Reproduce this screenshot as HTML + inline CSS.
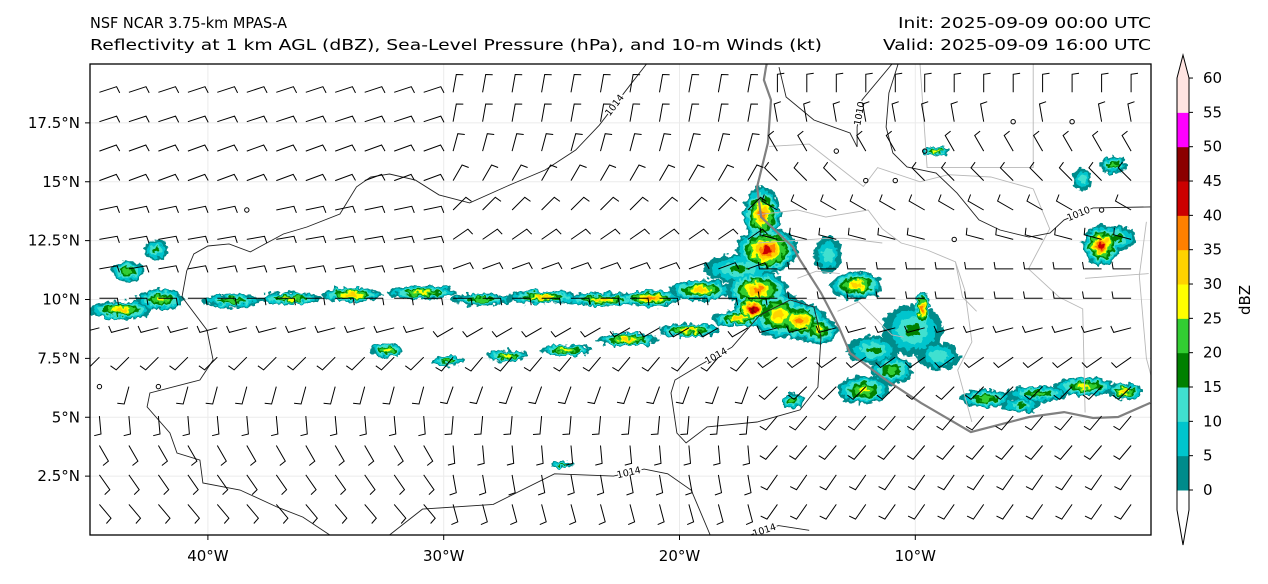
<!DOCTYPE html>
<html><head><meta charset="utf-8">
<style>
html,body{margin:0;padding:0;background:#fff;}
body{width:1268px;height:580px;overflow:hidden;font-family:"DejaVu Sans","Liberation Sans",sans-serif;}
svg text{font-family:"DejaVu Sans","Liberation Sans",sans-serif;fill:#000;}
</style></head>
<body>
<svg id="chart" width="1268" height="580" viewBox="0 0 1268 580">
  <text x="90" y="28" font-size="15" textLength="197" lengthAdjust="spacingAndGlyphs">NSF NCAR 3.75-km MPAS-A</text>
  <text x="90" y="50" font-size="15" textLength="732" lengthAdjust="spacingAndGlyphs">Reflectivity at 1 km AGL (dBZ), Sea-Level Pressure (hPa), and 10-m Winds (kt)</text>
  <text x="898" y="28" font-size="15" textLength="253" lengthAdjust="spacingAndGlyphs">Init: 2025-09-09 00:00 UTC</text>
  <text x="883" y="50" font-size="15" textLength="268" lengthAdjust="spacingAndGlyphs">Valid: 2025-09-09 16:00 UTC</text>
  <defs>
    <clipPath id="clip"><rect x="90" y="64" width="1061" height="471"/></clipPath>
    <filter id="rough" x="-5%" y="-5%" width="110%" height="110%">
      <feTurbulence type="fractalNoise" baseFrequency="0.18" numOctaves="2" seed="3" result="n"/>
      <feDisplacementMap in="SourceGraphic" in2="n" scale="9" xChannelSelector="R" yChannelSelector="G"/>
    </filter>
  </defs>
  <g id="plot" clip-path="url(#clip)"></g>
  <rect x="90" y="64" width="1061" height="471" fill="none" stroke="#000" stroke-width="1.3"/>
  <g id="axes"></g>
  <g id="cbar"></g>
</svg>
<script>
const NS='http://www.w3.org/2000/svg';
// ---- data ----
const lonTicks=[-40,-30,-20,-10];
const lonLabels=['40°W','30°W','20°W','10°W'];
const latTicks=[2.5,5,7.5,10,12.5,15,17.5];
const latLabels=['2.5°N','5°N','7.5°N','10°N','12.5°N','15°N','17.5°N'];
const cbLevels=[0,5,10,15,20,25,30,35,40,45,50,55,60];
const cbColors=['#008b8b','#00c5cd','#40e0d0','#008000','#32cd32','#ffff00','#ffd200','#ff8000','#cc0000','#8b0000','#ff00ff','#ffe4e1'];
// reflectivity cells: lon, lat, half-width (deg), half-height (deg), max dBZ
const cellLon=[-43.7,-42.0,-39.0,-36.5,-33.9,-30.9,-28.4,-25.8,-23.3,-21.2,-19.1,-42.2,-43.4,
 -32.4,-29.8,-27.3,-24.8,-22.2,-19.6,-17.5,
 -16.5,-16.3,-17.5,-16.7,-15.8,-14.9,-14.1,-16.9,-12.5,-13.7,
 -10.1,-9.7,-11.8,-12.2,-11.0,-9.0,-7.0,-4.8,-2.8,-1.1,-2.1,-1.5,-1.6,-2.9,-9.1,-15.2,-25.0,-5.5];
const cellLat=[9.55,10.0,9.95,10.05,10.2,10.3,10.0,10.1,10.0,10.05,10.4,12.1,11.2,
 7.85,7.4,7.6,7.85,8.3,8.7,9.2,
 13.6,12.1,11.3,10.4,9.35,9.1,8.7,9.6,10.6,11.9,
 8.7,9.6,7.85,6.15,7.0,7.6,5.8,6.0,6.3,6.1,12.3,12.6,15.7,15.1,16.3,5.7,3.0,5.5];
const cellRx=[1.3,1.0,1.3,1.3,1.3,1.5,1.3,1.5,1.5,1.3,1.3,0.5,0.7,
 0.7,0.7,0.9,1.1,1.3,1.3,1.1,
 0.8,1.3,1.5,1.3,1.1,1.1,0.8,0.8,1.1,0.6,
 1.3,0.35,1.1,1.1,0.9,0.9,1.1,1.3,1.3,0.7,0.8,0.9,0.6,0.4,0.6,0.5,0.5,0.8];
const cellRy=[0.4,0.45,0.3,0.25,0.3,0.3,0.25,0.3,0.3,0.35,0.45,0.45,0.45,
 0.3,0.22,0.25,0.25,0.3,0.3,0.35,
 1.2,1.0,0.6,0.8,1.0,0.8,0.6,0.6,0.6,0.8,
 1.1,0.8,0.6,0.6,0.6,0.6,0.4,0.35,0.4,0.35,0.85,0.55,0.35,0.45,0.2,0.3,0.15,0.3];
const cellDbz=[32,27,22,27,32,27,22,32,32,37,32,15,22,
 27,22,27,27,32,32,32,
 37,42,15,37,32,37,27,47,32,12,
 15,37,15,27,22,12,22,22,27,32,42,17,22,12,27,22,15,15];
// wind barbs: direction wind comes from (deg), per grid row, for west / middle / east zones
const barbRowLat=[18.8,17.55,16.3,15.05,13.8,12.55,11.3,10.05,8.8,7.55,6.3,5.05,3.8,2.55,1.3];
const barbColLon0=-44.6, barbColStep=1.25, barbCols=36;
const rowDirWest=[72,72,70,70,78,80,80,90,255,225,195,175,150,145,140];
const rowDirMid=[10,10,15,30,45,55,70,90,240,220,200,185,175,170,165];
const rowDirEast=[0,350,330,315,300,285,270,270,255,235,225,220,220,215,215];
const calmLon=[-10.0,-13.1,-11.8,-11.0,-3.4,-5.9,-1.5,-2.7,-8.4,-38.9,-42.5,-44.6];
const calmLat=[16.1,16.2,14.9,14.9,17.5,17.5,17.5,14.1,12.5,13.8,6.3,6.3];
// isobars (lon,lat pairs flattened)
const iso1014a=[-21.4,20,-22.1,19.1,-23.4,17.4,-24.4,16.35,-25.7,15.5,-27.2,14.86,-28.9,14.1,-30.2,14.44,-31.2,15.07,-32.3,15.33,-33.1,15.2,-33.7,14.78,-34.4,13.63,-35.8,13.08,-36.8,12.78,-38.2,12.02,-39.1,12.36,-40.0,12.27,-40.6,11.93,-40.9,11.21,-41.1,10.11,-40.04,8.7,-39.78,7.43,-40.34,6.58,-42.46,6.03,-42.58,5.44,-41.61,4.33,-41.31,3.48,-40.34,3.18,-40.21,2.21,-38.64,1.91,-37.07,1.19,-35.97,0.76,-34.83,0];
const iso1014b=[-32.3,0,-30.9,1.1,-27.9,1.3,-25.3,2.6,-22.8,2.5,-21.5,2.8,-20.5,2.6,-19.5,1.9,-18.7,0];
const iso1014c=[-17.0,0,-15.8,0.4,-14.5,0.2];
const iso1014d=[-17.77,7.98,-19.13,7.22,-20.19,6.58,-20.36,6.03,-20.11,4.33,-19.72,3.91,-18.83,4.59,-16.71,4.8,-14.89,5.31,-14.13,6.28,-14.0,8.41,-14.3,9.68,-15.31,9.98,-16.59,9.34,-17.77,7.98];
const iso1010a=[-15.78,19.87,-15.48,18.6,-14.3,17.62,-12.77,17.07,-12.47,16.48,-12.47,17.32,-12.26,18.47,-10.99,20];
const iso1010b=[-10.73,20,-11.12,18.77,-11.24,17.32,-10.95,16.22,-10.35,15.63,-9.12,15.37,-8.23,14.52,-7.3,13.38,-6.41,12.95,-5.18,12.65,-4.29,12.82,-3.69,13.38,-2.46,13.89,-0.04,13.93];
// coastline and borders
const coastLon=[-16.3,-16.33,-16.42,-16.12,-16.25,-16.71,-16.54,-15.19,-14.89,-14.0,-13.24,-12.77,-11.24,-9.76,-7.64,-5.18,-3.69,-2.46,-1.4,-0.04];
const coastLat=[20,19.87,19.32,18.47,16.65,14.78,13.5,12.23,11.68,10.28,8.83,7.73,6.58,5.61,4.37,5.01,5.22,4.97,5.01,5.61];
const borders=[
 [-16.2,16.5,-14.5,16.6,-12.2,14.8,-11.6,15.6,-9.8,15.0,-8.6,15.3,-6.8,15.2,-5.0,14.7],
 [-16.7,13.6,-15.0,13.8,-13.8,13.5,-12.0,13.8,-11.4,13.0,-10.6,12.4,-9.5,12.1,-8.3,11.6,-8.0,10.1,-7.4,9.5],
 [-16.7,12.4,-13.7,12.6,-13.0,12.6,-11.4,12.4],
 [-15.0,10.9,-14.2,11.2,-13.2,11.1],
 [-13.3,9.5,-12.4,9.9,-11.0,8.5,-10.5,8.4],
 [-9.8,20,-9.5,15.6,-5.0,15.6,-5.0,20],
 [-8.3,11.6,-7.9,10.4,-7.6,8.2,-8.2,7.0,-7.6,4.8],
 [-5.0,14.7,-4.3,13.0,-5.2,11.3,-3.9,10.1,-2.9,9.6,-2.8,5.2],
 [-2.8,10.9,-0.1,11.1],
 [-0.2,13.3,-0.5,11.0,-0.2,7.5,0.2,6.0]
];
// ---- helpers ----
const X=lon=>90+(lon+45)*23.58;
const Y=lat=>535-lat*23.55;
const plotG=document.getElementById('plot');
const axesG=document.getElementById('axes');
const cbarG=document.getElementById('cbar');
function mk(tag,attrs,parent){const e=document.createElementNS(NS,tag);for(const k in attrs)e.setAttribute(k,attrs[k]);parent.appendChild(e);return e;}
function colorFor(v){let i=Math.floor(v/5);if(i<0)i=0;if(i>11)i=11;return cbColors[i];}
function pathOf(a){let d='';for(let i=0;i<a.length;i+=2)d+=(i?'L':'M')+X(a[i]).toFixed(1)+' '+Y(a[i+1]).toFixed(1);return d;}
// gridlines
lonTicks.forEach(v=>{const l=mk('line',{x1:X(v),x2:X(v),y1:64,y2:535,stroke:'#ebebeb','stroke-width':1},plotG);

});
latTicks.forEach(v=>{const l=mk('line',{x1:90,x2:1151,y1:Y(v),y2:Y(v),stroke:'#ebebeb','stroke-width':1},plotG);

});
// reflectivity
const refl=mk('g',{filter:'url(#rough)'},plotG);


for(let L=0;L<=55;L+=5){
  for(let i=0;i<cellLon.length;i++){
    const mx=cellDbz[i];
    if(L>mx)continue;
    const f=1-L/(mx+5);
    const e=mk('ellipse',{cx:X(cellLon[i]),cy:Y(cellLat[i]),rx:cellRx[i]*23.58*f,ry:cellRy[i]*23.55*f,fill:colorFor(L)},refl);
    
    
  }
}
// borders
borders.forEach(b=>{const p=mk('path',{d:pathOf(b),fill:'none',stroke:'#b8b8b8','stroke-width':0.9},plotG);

});
// coastline
const ca=[];coastLon.forEach((v,i)=>{ca.push(v,coastLat[i]);});
const cst=mk('path',{d:pathOf(ca),fill:'none',stroke:'#808080','stroke-width':2.2},plotG);


// isobars
[[iso1014a,'1014',1],[iso1014b,'1014',4],[iso1014c,'1014',0],[iso1014d,'1014',0],[iso1010a,'1010',5],[iso1010b,'1010',11]].forEach(([a,lab,k])=>{
  const p=mk('path',{d:pathOf(a),fill:'none',stroke:'#222','stroke-width':0.9},plotG);
  
  
  const j=Math.min(k,a.length/2-2)*2;
  const x1=X(a[j]),y1=Y(a[j+1]),x2=X(a[j+2]),y2=Y(a[j+3]);
  let ang=Math.atan2(y2-y1,x2-x1)*180/Math.PI; if(ang>90)ang-=180; if(ang<-90)ang+=180;
  const t=mk('text',{x:(x1+x2)/2,y:(y1+y2)/2+3,'font-size':9.5,'text-anchor':'middle',transform:`rotate(${ang} ${(x1+x2)/2} ${(y1+y2)/2})`,stroke:'#fff','stroke-width':3,'paint-order':'stroke'},plotG);
  t.textContent=lab;
  
  
});
// wind barbs
const barbs=mk('g',{stroke:'#000','stroke-width':1,fill:'none'},plotG);


function isCalm(lon,lat){for(let i=0;i<calmLon.length;i++){if(Math.abs(calmLon[i]-lon)<0.6&&Math.abs(calmLat[i]-lat)<0.6)return true;}return false;}
barbRowLat.forEach((lat,r)=>{
  for(let c=0;c<barbCols;c++){
    const lon=barbColLon0+c*barbColStep;
    const x=X(lon),y=Y(lat);
    if(isCalm(lon,lat)){const ci=mk('circle',{cx:x,cy:y,r:2.2},barbs);
      
      continue;}
    const dd=lon< -30?rowDirWest[r]:(lon< -16?rowDirMid[r]:rowDirEast[r]);
    const dir=dd*Math.PI/180;
    const L=18;
    const tx=x+Math.sin(dir)*L, ty=y-Math.cos(dir)*L;
    const b=dir+Math.PI*0.45;
    const bx=tx+Math.sin(b)*7, by=ty-Math.cos(b)*7;
    const p=mk('path',{d:`M${x.toFixed(1)} ${y.toFixed(1)}L${tx.toFixed(1)} ${ty.toFixed(1)}L${bx.toFixed(1)} ${by.toFixed(1)}`},barbs);
    
    
  }
});
// axis ticks/labels
lonTicks.forEach((v,i)=>{
  mk('line',{x1:X(v),x2:X(v),y1:535,y2:540,stroke:'#000'},axesG);
  const t=mk('text',{x:X(v),y:561,'font-size':15,'text-anchor':'middle'},axesG);
  t.textContent=lonLabels[i];
  
  
});
latTicks.forEach((v,i)=>{
  mk('line',{x1:85,x2:90,y1:Y(v),y2:Y(v),stroke:'#000'},axesG);
  const t=mk('text',{x:80,y:Y(v)+5,'font-size':15,'text-anchor':'end'},axesG);
  t.textContent=latLabels[i];
  
  
});
// colorbar
const cbX=1177,cbW=12,cb0=490,cbStep=34.33;
const cy=v=>cb0-(v/5)*cbStep;
for(let i=0;i<cbColors.length;i++){
  const r=mk('rect',{x:cbX,y:cy(cbLevels[i+1]),width:cbW,height:cbStep+0.5,fill:cbColors[i]},cbarG);
  
  
}
const cbTop=cy(60);
mk('polygon',{points:`${cbX},${cbTop} ${cbX+cbW/2},55 ${cbX+cbW},${cbTop}`,fill:cbColors[11]},cbarG);
mk('path',{d:`M${cbX} ${cb0}L${cbX} ${cbTop}L${cbX+cbW/2} 55L${cbX+cbW} ${cbTop}L${cbX+cbW} ${cb0}L${cbX+cbW} 510L${cbX+cbW/2} 545L${cbX} 510Z`,fill:'none',stroke:'#000','stroke-width':1},cbarG);
cbLevels.forEach(v=>{
  mk('line',{x1:cbX+cbW,x2:cbX+cbW+4,y1:cy(v),y2:cy(v),stroke:'#000'},cbarG);
  const t=mk('text',{x:1203,y:cy(v)+5,'font-size':15},cbarG);
  t.textContent=v;
  
  
});
const cl=mk('text',{x:1250,y:300,'font-size':15,'text-anchor':'middle',transform:'rotate(-90 1250 300)'},cbarG);
cl.textContent='dBZ';


</script>
</body></html>
